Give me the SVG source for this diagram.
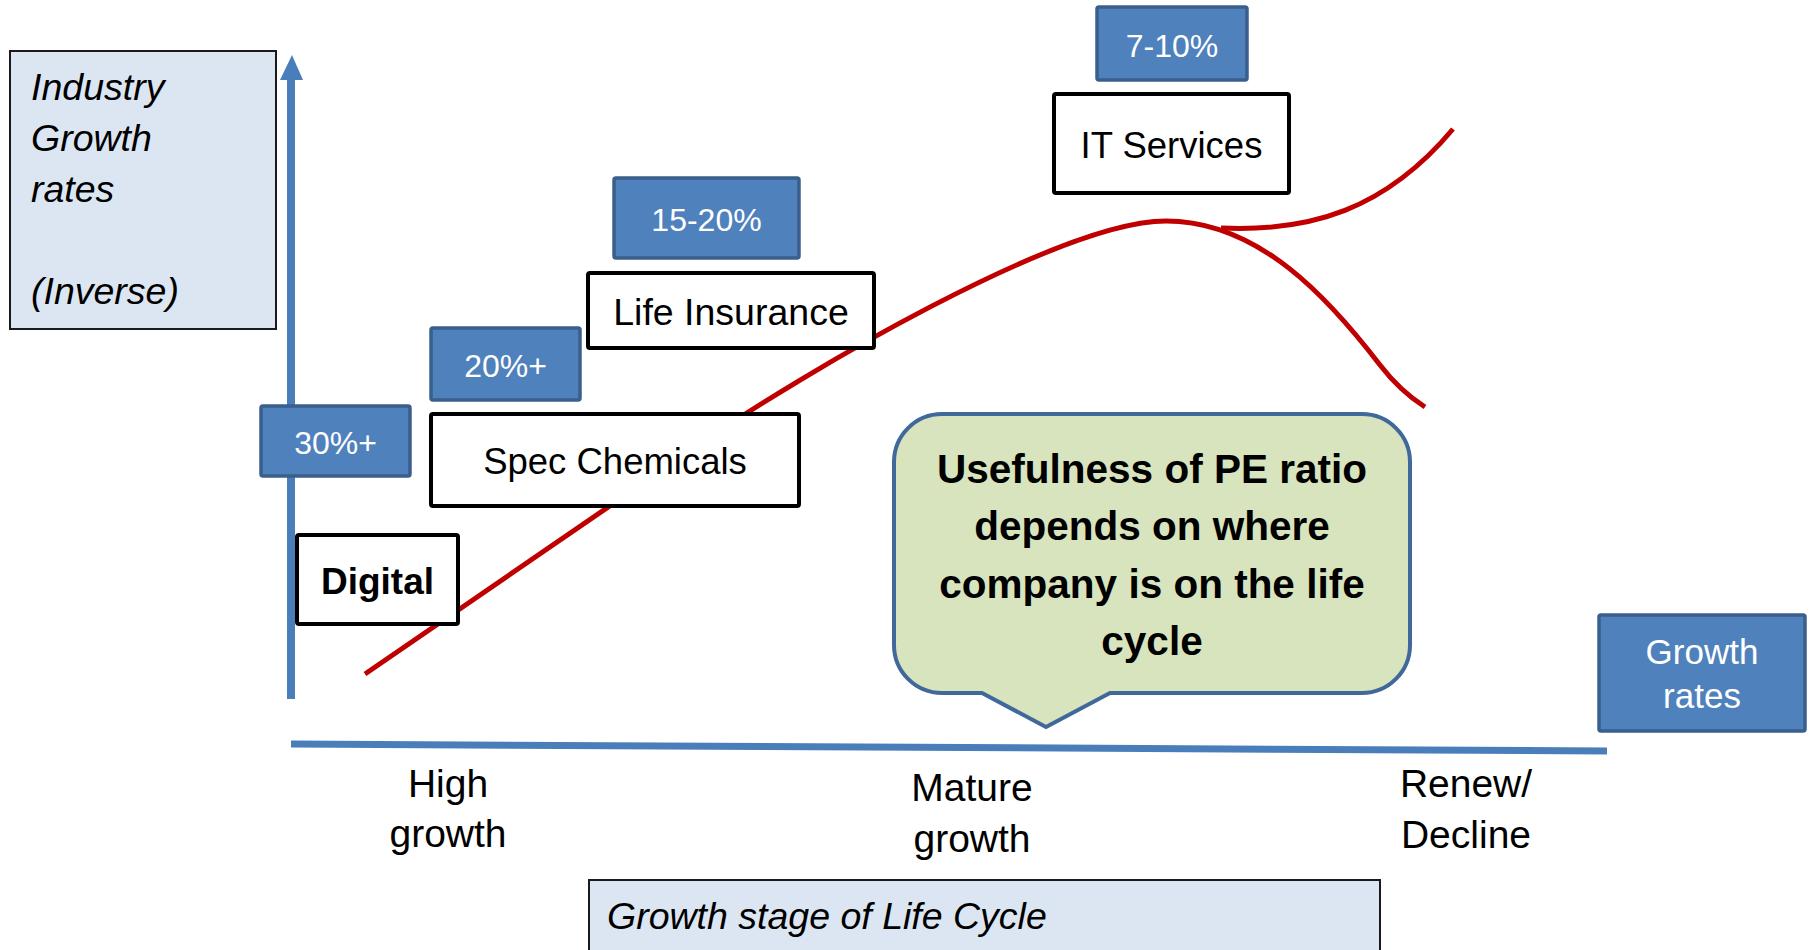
<svg xmlns="http://www.w3.org/2000/svg" width="1812" height="950" viewBox="0 0 1812 950">
<defs>
<style>
.t{font-family:"Liberation Sans",Arial,sans-serif;fill:#000}
.it{font-style:italic}
.b{font-weight:bold}
.w{fill:#fff}
.mid{text-anchor:middle}
.blk{fill:#fff;stroke:#000;stroke-width:4}
.blue{fill:#4f81bd;stroke:#3a5f8c;stroke-width:3.5}
.pale{fill:#dce6f2;stroke:#1a1a1a;stroke-width:2}
.curve{fill:none;stroke:#c00000;stroke-width:5}
.axis{stroke:#4a7ebb;stroke-width:8;fill:none}
</style>
</defs>
<rect width="1812" height="950" fill="#fff"/>

<g id="connectors">
<line class="axis" x1="291" y1="699" x2="291" y2="76"/>
<polygon points="280,80 292,55 303,80" fill="#4a7ebb"/>
<polygon points="291,740.5 1607,747.5 1607,754.5 291,747.5" fill="#4a7ebb"/>
<path class="curve" d="M365,674 L700,444 C800,375 1060,221 1166,221 C1260,221 1330,300 1380,365 Q1400,391 1425,407"/>
<path class="curve" d="M1221,228 C1310,232 1385,210 1453,129"/>
</g>

<g id="y-title">
<rect class="pale" x="10" y="51" width="266" height="278"/>
<text class="t it" font-size="37.5" x="31" y="100">Industry</text>
<text class="t it" font-size="37.5" x="31" y="151">Growth</text>
<text class="t it" font-size="37.5" x="31" y="202">rates</text>
<text class="t it" font-size="37.5" x="31" y="304">(Inverse)</text>
</g>

<g id="x-title">
<rect class="pale" x="589" y="880" width="791" height="80"/>
<text class="t it" font-size="37.5" x="607" y="929">Growth stage of Life Cycle</text>
</g>

<g id="rate-30">
<rect class="blue" x="261" y="406" width="149" height="70" rx="2"/>
<text class="t w mid" font-size="32" x="335.5" y="454">30%+</text>
</g>
<g id="digital">
<rect class="blk" x="297" y="535" width="161" height="89" rx="2"/>
<text class="t b mid" font-size="37" x="377.5" y="594">Digital</text>
</g>
<g id="rate-20">
<rect class="blue" x="431" y="328" width="149" height="72" rx="2"/>
<text class="t w mid" font-size="32" x="505.5" y="377">20%+</text>
</g>
<g id="spec-chemicals">
<rect class="blk" x="431" y="414" width="368" height="92" rx="2"/>
<text class="t mid" font-size="36.5" x="615" y="474">Spec Chemicals</text>
</g>
<g id="rate-15-20">
<rect class="blue" x="614" y="178" width="185" height="80" rx="2"/>
<text class="t w mid" font-size="32" x="706.5" y="231">15-20%</text>
</g>
<g id="life-insurance">
<rect class="blk" x="588" y="273" width="286" height="75" rx="2"/>
<text class="t mid" font-size="37.5" x="731" y="325">Life Insurance</text>
</g>
<g id="rate-7-10">
<rect class="blue" x="1097" y="7" width="150" height="73" rx="2"/>
<text class="t w mid" font-size="32" x="1172" y="57">7-10%</text>
</g>
<g id="it-services">
<rect class="blk" x="1054" y="94" width="235" height="99" rx="2"/>
<text class="t mid" font-size="36.5" x="1171.5" y="158">IT Services</text>
</g>

<g id="callout">
<path d="M942,414 H1362 A48,48 0 0 1 1410,462 V645 A48,48 0 0 1 1362,693 H1110 L1046,727 L982,693 H942 A48,48 0 0 1 894,645 V462 A48,48 0 0 1 942,414 Z" fill="#d7e4bd" stroke="#41689a" stroke-width="4"/>
<text class="t b mid" font-size="40.5" x="1152" y="483">Usefulness of PE ratio</text>
<text class="t b mid" font-size="40.5" x="1152" y="540">depends on where</text>
<text class="t b mid" font-size="40.5" x="1152" y="598">company is on the life</text>
<text class="t b mid" font-size="40.5" x="1152" y="655">cycle</text>
</g>

<g id="growth-rates">
<rect class="blue" x="1599" y="615" width="206" height="116" rx="2"/>
<text class="t w mid" font-size="35" x="1702" y="664">Growth</text>
<text class="t w mid" font-size="35" x="1702" y="708">rates</text>
</g>

<g id="stage-high">
<text class="t mid" font-size="39" x="448" y="797">High</text>
<text class="t mid" font-size="39" x="448" y="847">growth</text>
</g>
<g id="stage-mature">
<text class="t mid" font-size="39" x="972" y="801">Mature</text>
<text class="t mid" font-size="39" x="972" y="852">growth</text>
</g>
<g id="stage-renew">
<text class="t mid" font-size="39" x="1466" y="797">Renew/</text>
<text class="t mid" font-size="39" x="1466" y="848">Decline</text>
</g>
</svg>
